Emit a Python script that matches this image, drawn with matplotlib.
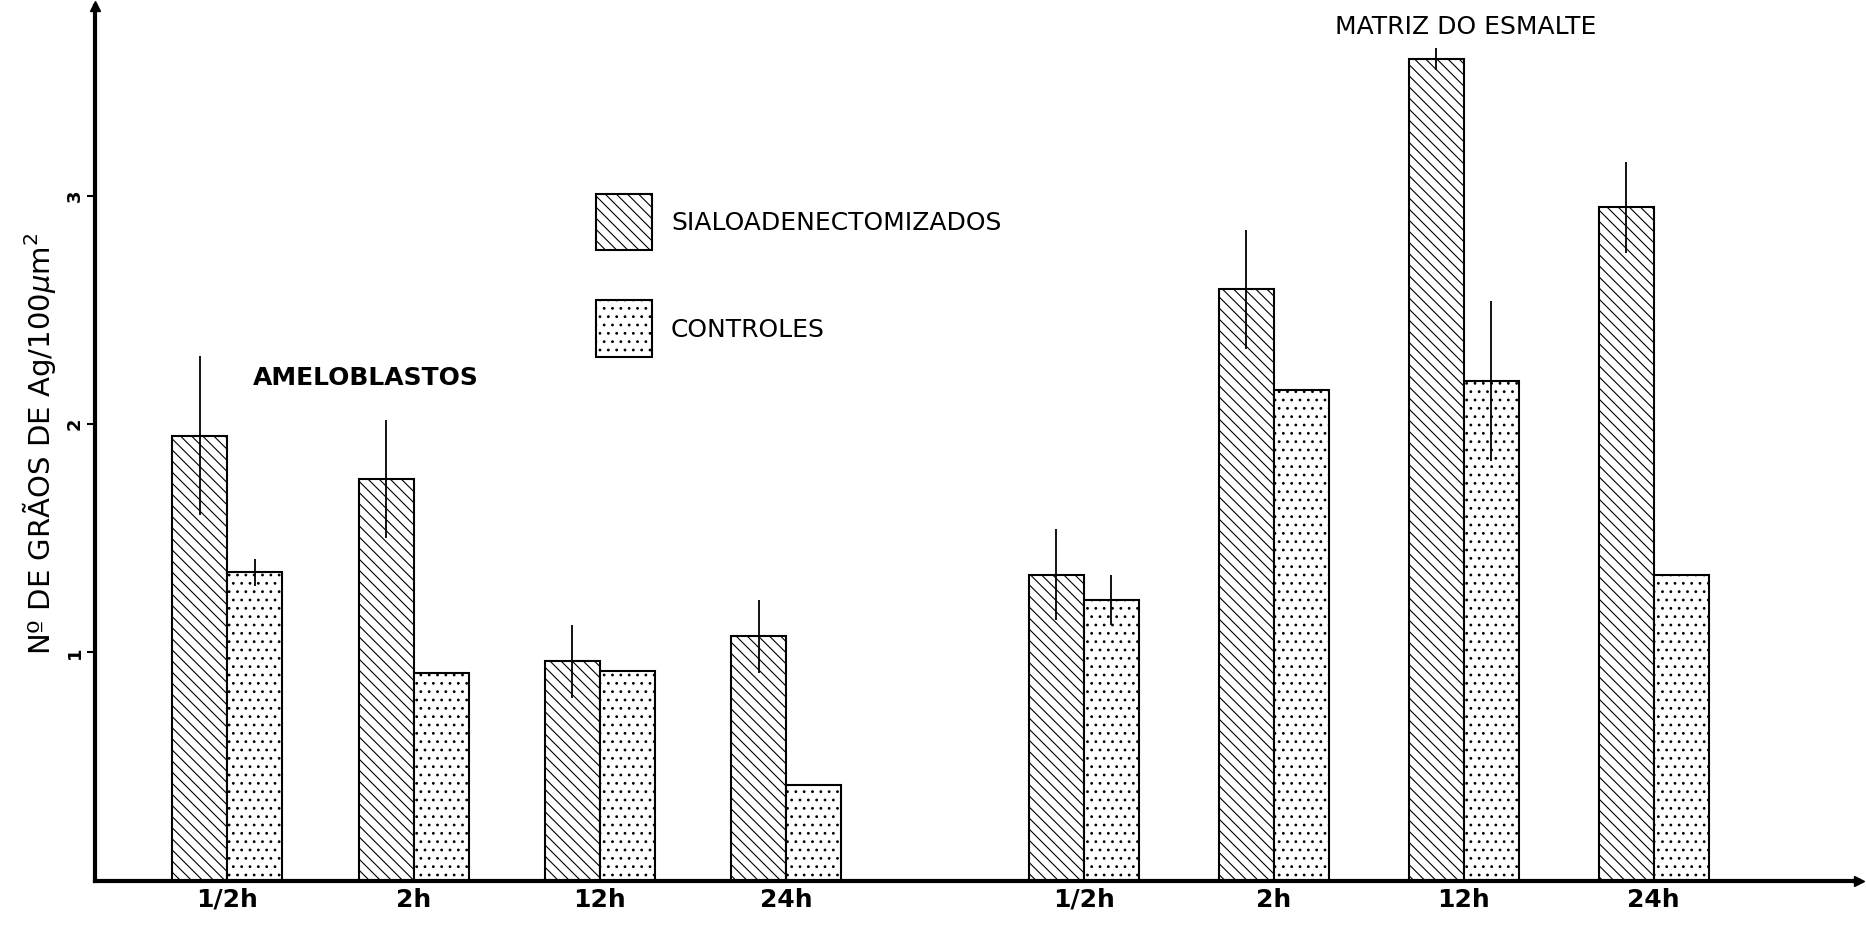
import matplotlib.pyplot as plt
from matplotlib.patches import Rectangle

# values
tempos = ["1/2h", "2h", "12h", "24h", "1/2h", "2h", "12h", "24h"]
sialo = [1.95, 1.76, 0.96, 1.07, 1.34, 2.59, 3.60, 2.95]
sialo_err = [0.35, 0.26, 0.16, 0.16, 0.20, 0.26, 0.05, 0.20]
contr = [1.35, 0.91, 0.92, 0.42, 1.23, 2.15, 2.19, 1.34]
contr_err = [0.06, 0.0, 0.0, 0.0, 0.11, 0.0, 0.35, 0.0]
grupos = ["AMELOBLASTOS", "MATRIZ DO ESMALTE"]
legenda = ["SIALOADENECTOMIZADOS", "CONTROLES"]

pos = [0, 1, 2, 3, 4.6, 5.62, 6.64, 7.66]
w = 0.295
plt.rcParams['hatch.linewidth'] = 0.8

fig = plt.figure(figsize=(18.66, 9.25), dpi=100)
ax = fig.add_axes([0.051, 0.048, 0.945, 0.945])

xs = [p - w / 2 for p in pos]
xc = [p + w / 2 for p in pos]
ax.bar(xs, sialo, w, color="white", edgecolor="black", hatch="\\\\\\", linewidth=1.5)
ax.bar(xc, contr, w, color="white", edgecolor="black", hatch="..", linewidth=1.5)
ax.errorbar(xs, sialo, yerr=sialo_err, fmt="none", ecolor="black", elinewidth=1.3, capsize=0)
ce = [(x, v, e) for x, v, e in zip(xc, contr, contr_err) if e > 0]
ax.errorbar([c[0] for c in ce], [c[1] for c in ce], yerr=[c[2] for c in ce],
            fmt="none", ecolor="black", elinewidth=1.3, capsize=0)

ax.set_xlim(-0.71, 8.76)
ax.set_ylim(0, 3.83)
for s in ["top", "right"]:
    ax.spines[s].set_visible(False)
ax.spines["left"].set_linewidth(3)
ax.spines["bottom"].set_linewidth(3)
ax.plot(0, 1, "^", color="black", markersize=7, transform=ax.transAxes, clip_on=False)
ax.plot(1, 0, ">", color="black", markersize=7, transform=ax.transAxes, clip_on=False)

ax.set_xticks(pos)
ax.set_xticklabels(tempos, fontsize=18, fontweight="bold")
ax.tick_params(axis="x", length=0, pad=5)
ax.set_yticks([1, 2, 3])
ax.set_yticklabels(["1", "2", "3"], rotation=90, va="center", fontsize=13, fontweight="bold")
ax.tick_params(axis="y", length=6, width=1.5, direction="out", pad=2)
ax.set_ylabel("Nº DE GRÃOS DE Ag/100$\\mu$m$^2$", fontsize=21, labelpad=6)

ax.text(0.137, 2.20, grupos[0], fontsize=18, fontweight="bold", ha="left", va="center")
ax.text(6.65, 3.74, grupos[1], fontsize=18, ha="center", va="center")

# legend drawn by hand, as in the original figure
ax.add_patch(Rectangle((0.284, 0.721), 0.0316, 0.065, transform=ax.transAxes,
                       facecolor="white", edgecolor="black", hatch="\\\\\\", linewidth=1.5))
ax.add_patch(Rectangle((0.284, 0.599), 0.0316, 0.065, transform=ax.transAxes,
                       facecolor="white", edgecolor="black", hatch="..", linewidth=1.5))
ax.text(0.3266, 0.752, legenda[0], transform=ax.transAxes, fontsize=18, va="center")
ax.text(0.3266, 0.630, legenda[1], transform=ax.transAxes, fontsize=18, va="center")

fig.savefig("out.png", dpi=100)
